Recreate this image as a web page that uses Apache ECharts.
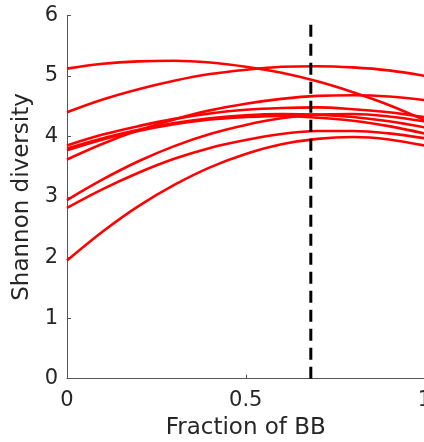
<!DOCTYPE html>
<html><head><meta charset="utf-8">
<script src="https://cdn.jsdelivr.net/npm/echarts@6/dist/echarts.min.js"></script>
<style>html,body{margin:0;padding:0;background:#fff}#c{width:424px;height:442px}</style>
</head><body><div id="c"></div>
<script>
var xs = [0, 0.1, 0.2, 0.3, 0.4, 0.5, 0.6, 0.7, 0.8, 0.9, 1.0];
var curveA = [5.12, 5.20, 5.24, 5.25, 5.22, 5.15, 5.05, 4.91, 4.73, 4.52, 4.27];
var curveB = [4.40, 4.61, 4.78, 4.92, 5.03, 5.10, 5.15, 5.16, 5.14, 5.09, 5.00];
var curveC = [3.62, 3.88, 4.10, 4.28, 4.43, 4.54, 4.62, 4.67, 4.68, 4.66, 4.60];
var curveD = [1.95, 2.43, 2.85, 3.20, 3.49, 3.71, 3.87, 3.96, 3.99, 3.95, 3.85];
var curveE = [2.82, 3.13, 3.40, 3.63, 3.81, 3.94, 4.04, 4.09, 4.09, 4.05, 3.97];
var curveF = [2.95, 3.29, 3.59, 3.84, 4.04, 4.19, 4.30, 4.36, 4.37, 4.33, 4.25];
var curveG = [3.85, 4.03, 4.17, 4.29, 4.38, 4.44, 4.47, 4.48, 4.45, 4.40, 4.32];
var curveH = [3.80, 3.97, 4.11, 4.22, 4.30, 4.35, 4.37, 4.36, 4.32, 4.25, 4.15];
var curveI = [3.77, 3.95, 4.09, 4.20, 4.28, 4.32, 4.34, 4.31, 4.26, 4.17, 4.05];
var curves = [curveA, curveB, curveC, curveD, curveE, curveF, curveG, curveH, curveI];
var dashX = 0.682;
var dashY = [0, 5.9];
var xTicks = [0, 0.5, 1];
var yTicks = [0, 1, 2, 3, 4, 5, 6];

var font = 'DejaVu Sans';
var txt = '#262626';
var series = curves.map(function (c) {
  return {
    type: 'line', smooth: 0.35, symbol: 'none', silent: true,
    lineStyle: { color: '#ff0000', width: 2.6 },
    data: xs.map(function (x, i) { return [x, c[i]]; })
  };
});
series.push({
  type: 'line', symbol: 'none', silent: true,
  lineStyle: { color: '#000000', width: 3, type: [12, 7] },
  data: dashY.map(function (y) { return [dashX, y]; })
});
var chart = echarts.init(document.getElementById('c'), null, { renderer: 'canvas' });
chart.setOption({
  animation: false,
  backgroundColor: '#ffffff',
  grid: { left: 67, top: 15.3, width: 357.5, height: 363.4, containLabel: false, outerBoundsMode: 'none' },
  xAxis: {
    type: 'value', min: 0, max: 1, interval: 0.5,
    name: 'Fraction of BB', nameLocation: 'middle', nameGap: 38,
    nameTextStyle: { fontFamily: font, fontSize: 23, color: txt },
    axisLine: { show: true, lineStyle: { color: '#555555', width: 1 } },
    axisTick: { show: true, inside: true, length: 4, lineStyle: { color: '#555555' } },
    axisLabel: { fontFamily: font, fontSize: 21, color: txt, margin: 11,
      formatter: function (v) { return xTicks.indexOf(v) >= 0 ? String(v) : ''; } },
    splitLine: { show: false }
  },
  yAxis: {
    type: 'value', min: 0, max: 6, interval: 1,
    name: 'Shannon diversity', nameLocation: 'middle', nameGap: 33,
    nameTextStyle: { fontFamily: font, fontSize: 23, color: txt },
    axisLine: { show: true, lineStyle: { color: '#555555', width: 1 } },
    axisTick: { show: true, inside: true, length: 4, lineStyle: { color: '#555555' } },
    axisLabel: { fontFamily: font, fontSize: 21, color: txt, margin: 9,
      formatter: function (v) { return yTicks.indexOf(v) >= 0 ? String(v) : ''; } },
    splitLine: { show: false }
  },
  series: series
});
</script>
</body></html>
